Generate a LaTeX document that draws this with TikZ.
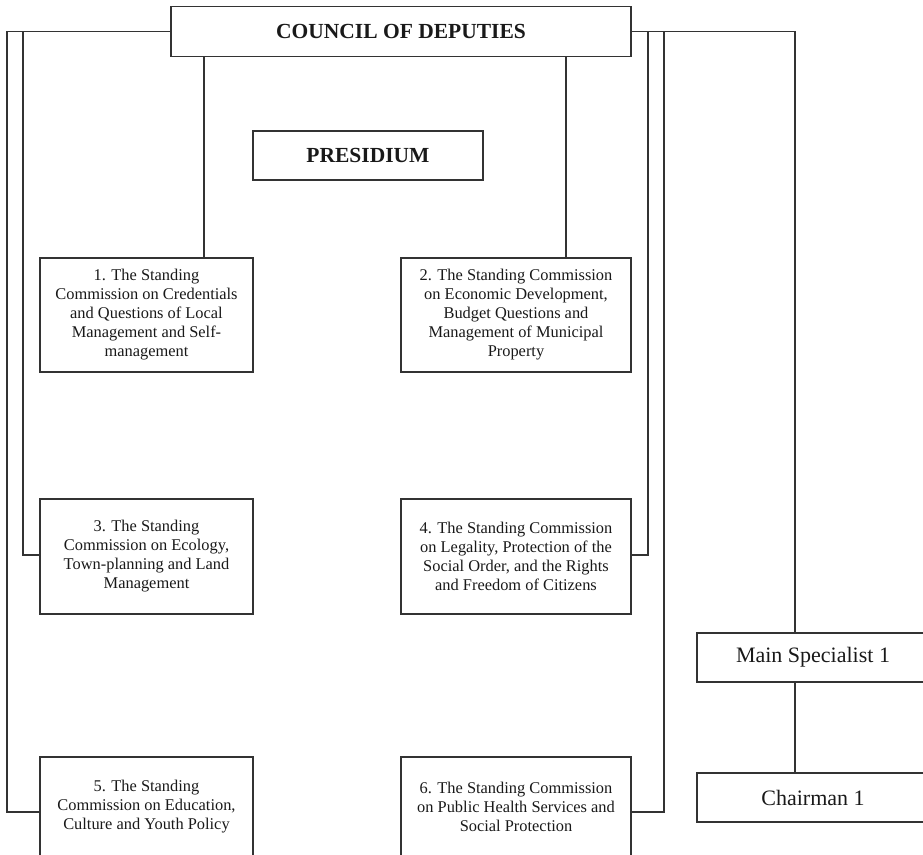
\documentclass[tikz,border=0pt]{standalone}
\usepackage{fontspec}
\setmainfont{Liberation Serif}
\begin{document}
\begin{tikzpicture}[x=1pt,y=-1pt,
  linec/.style={draw=black!80, line width=1.3pt},
  box/.style={linec, rectangle, inner sep=0pt, align=center, text=black!90},
  head/.style={box, font=\fontsize{21.5}{24}\selectfont\bfseries},
  comm/.style={box, minimum width=#1, font=\fontsize{16.4}{19}\selectfont},
  staff/.style={box, minimum width=232pt, minimum height=49pt, font=\fontsize{22}{25}\selectfont},
  conn/.style={linec}]
\useasboundingbox (0,0) rectangle (923,854);
\clip (0,0) rectangle (923,854);
% top nodes
\node[head, minimum width=460pt, minimum height=50pt] (council) at (401,31.5) {COUNCIL OF DEPUTIES};
\node[head, minimum width=230pt, minimum height=49pt] (presidium) at (368,155.5) {PRESIDIUM};
% commissions
\node[comm=213pt, minimum height=114pt] (c1) at (146.5,315) {1. The Standing\\Commission on Credentials\\and Questions of Local\\Management and Self-\\management};
\node[comm=230pt, minimum height=114pt] (c2) at (516,315) {2. The Standing Commission\\on Economic Development,\\Budget Questions and\\Management of Municipal\\Property};
\node[comm=213pt, minimum height=115pt] (c3) at (146.5,556.5) {3. The Standing\\Commission on Ecology,\\Town-planning and Land\\Management};
\node[comm=230pt, minimum height=115pt] (c4) at (516,556.5) {4. The Standing Commission\\on Legality, Protection of the\\Social Order, and the Rights\\and Freedom of Citizens};
\node[comm=213pt, minimum height=100pt] (c5) at (146.5,807) {5. The Standing\\Commission on Education,\\Culture and Youth Policy};
\node[comm=230pt, minimum height=100pt] (c6) at (516,807) {6. The Standing Commission\\on Public Health Services and\\Social Protection};
% staff
\node[staff] (ms) at (813,657.5) {Main Specialist 1};
\node[staff] (ch) at (813,797.5) {Chairman 1};
% junction coordinates
\coordinate (j5) at (7,812);
\coordinate (j3) at (23,555);
\coordinate (k1) at (204,0);
\coordinate (k2) at (566,0);
\coordinate (j4) at (648,555);
\coordinate (j6) at (664,812);
\coordinate (km) at (795,0);
% connectors
\draw[conn] (council.west) -| (j5) -- (j5 -| c5.west);
\draw[conn] (council.west) -| (j3) -- (j3 -| c3.west);
\draw[conn] (council.south -| k1) -- (c1.north -| k1);
\draw[conn] (council.south -| k2) -- (c2.north -| k2);
\draw[conn] (council.east) -| (j4) -- (j4 -| c4.east);
\draw[conn] (council.east) -| (j6) -- (j6 -| c6.east);
\draw[conn] (council.east) -| (ms.north -| km);
\draw[conn] (ms.south -| km) -- (ch.north -| km);
\end{tikzpicture}
\end{document}
